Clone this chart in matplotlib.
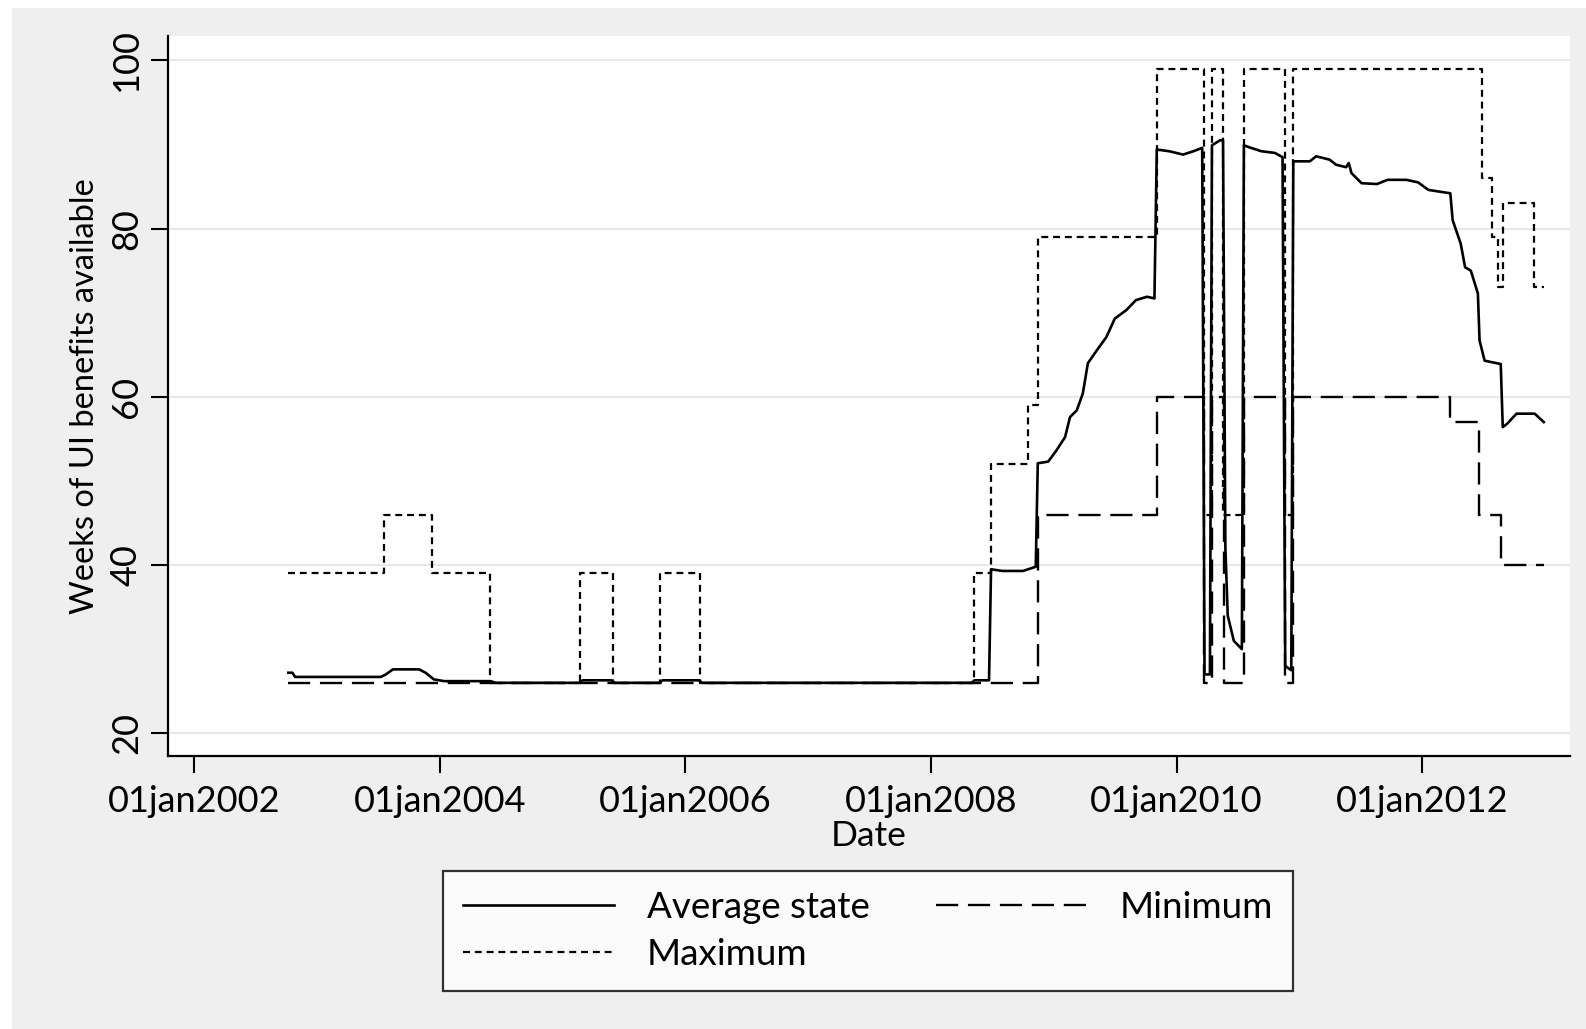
import matplotlib
matplotlib.use("Agg")
import matplotlib.pyplot as plt
import pandas as pd
from matplotlib.patches import Rectangle

# ---------------- data ----------------
avg_dates = [
    "2002-10-08", "2002-10-20", "2002-10-28", "2003-07-10", "2003-07-25",
    "2003-08-15", "2003-11-01", "2003-11-20", "2003-12-15", "2004-01-15",
    "2004-06-01", "2004-06-15", "2005-02-20", "2005-03-01", "2005-05-25",
    "2005-06-05", "2005-10-16", "2005-10-25", "2006-02-10", "2006-02-20",
    "2008-05-01", "2008-05-10", "2008-06-22", "2008-06-28", "2008-08-01",
    "2008-10-01", "2008-11-08", "2008-11-14", "2008-12-15", "2009-01-08",
    "2009-02-03", "2009-02-18", "2009-03-10", "2009-03-28", "2009-04-12",
    "2009-05-08", "2009-06-06", "2009-07-01", "2009-08-04", "2009-09-02",
    "2009-10-05", "2009-10-27", "2009-11-03", "2009-12-10", "2010-01-20",
    "2010-02-20", "2010-03-18", "2010-03-25", "2010-04-10", "2010-04-16",
    "2010-05-10", "2010-05-19", "2010-05-26", "2010-06-02", "2010-06-20",
    "2010-07-14", "2010-07-20", "2010-08-10", "2010-09-10", "2010-10-20",
    "2010-11-12", "2010-11-20", "2010-12-08", "2010-12-14", "2011-02-01",
    "2011-02-20", "2011-04-01", "2011-04-20", "2011-05-20", "2011-05-28",
    "2011-06-05", "2011-07-05", "2011-08-20", "2011-09-20", "2011-11-15",
    "2011-12-20", "2012-01-20", "2012-03-25", "2012-04-01", "2012-04-25",
    "2012-05-08", "2012-05-25", "2012-06-15", "2012-06-20", "2012-07-05",
    "2012-08-22", "2012-08-28", "2012-09-10", "2012-10-08", "2012-12-01",
    "2012-12-28",
]
avg_values = [
    27.2, 27.2, 26.7, 26.7, 27.0,
    27.6, 27.6, 27.2, 26.4, 26.2,
    26.2, 26.0, 26.0, 26.3, 26.3,
    26.0, 26.0, 26.3, 26.3, 26.0,
    26.0, 26.3, 26.3, 39.5, 39.3,
    39.3, 39.8, 52.1, 52.3, 53.6,
    55.2, 57.6, 58.4, 60.4, 64.0,
    65.5, 67.1, 69.3, 70.3, 71.5,
    71.9, 71.7, 89.4, 89.2, 88.8,
    89.2, 89.6, 27.0, 27.0, 89.9,
    90.5, 90.5, 42.0, 34.0, 31.0,
    30.0, 89.9, 89.6, 89.2, 89.0,
    88.5, 28.0, 27.5, 88.0, 88.0,
    88.6, 88.2, 87.6, 87.3, 87.8,
    86.6, 85.4, 85.3, 85.8, 85.8,
    85.5, 84.6, 84.2, 81.0, 78.2,
    75.4, 75.0, 72.3, 66.7, 64.3,
    63.9, 56.4, 56.8, 58.0, 58.0,
    57.0,
]

max_dates = [
    "2002-10-08", "2003-07-19", "2003-12-09", "2004-05-30", "2005-02-20",
    "2005-05-30", "2005-10-16", "2006-02-14", "2008-05-08", "2008-06-28",
    "2008-10-16", "2008-11-14", "2009-11-03", "2010-03-22", "2010-04-16",
    "2010-05-19", "2010-07-20", "2010-11-18", "2010-12-14", "2012-06-28",
    "2012-07-28", "2012-08-15", "2012-08-29", "2012-11-29", "2012-12-28",
]
max_values = [
    39, 46, 39, 26, 39,
    26, 39, 26, 39, 52,
    59, 79, 99, 46, 99,
    46, 99, 46, 99, 86,
    79, 73, 83, 73, 73,
]

min_dates = [
    "2002-10-08", "2008-11-14", "2009-11-03", "2010-03-22", "2010-04-16",
    "2010-05-22", "2010-07-20", "2010-11-18", "2010-12-14", "2012-03-25",
    "2012-06-18", "2012-08-22", "2012-12-28",
]
min_values = [
    26, 46, 60, 26, 60,
    26, 60, 26, 60, 57,
    46, 40, 40,
]

xtick_dates = ["2002-01-01", "2004-01-01", "2006-01-01",
               "2008-01-01", "2010-01-01", "2012-01-01"]
ytick_values = [20, 40, 60, 80, 100]
series_labels = ["Average state", "Maximum", "Minimum"]

# ---------------- styling ----------------
plt.rcParams["font.family"] = ["Lato", "DejaVu Sans"]
plt.rcParams["lines.scale_dashes"] = False

W, H = 1586, 1029
fig = plt.figure(figsize=(W / 100, H / 100), dpi=100)
fig.patch.set_facecolor("white")
fig.add_artist(Rectangle((12 / W, 0), 1, 1 - 8 / H, transform=fig.transFigure,
                         facecolor="#efefef", edgecolor="none", zorder=-5))

ax = fig.add_axes([168 / W, 1 - 756 / H, (1570 - 168) / W, (756 - 36) / H])
ax.set_facecolor("white")

l_avg, = ax.plot(pd.to_datetime(avg_dates), avg_values, color="black",
                 lw=1.9, label=series_labels[0], zorder=3)
l_max, = ax.plot(pd.to_datetime(max_dates), max_values, color="black",
                 lw=1.6, linestyle=(0, (5, 3.5)), drawstyle="steps-post",
                 label=series_labels[1], zorder=2)
l_min, = ax.plot(pd.to_datetime(min_dates), min_values, color="black",
                 lw=1.7, linestyle=(0, (16, 7)), drawstyle="steps-post",
                 label=series_labels[2], zorder=2)

ax.set_xlim(pd.Timestamp("2001-10-15"), pd.Timestamp("2013-03-16"))
ax.set_ylim(17.3, 102.9)

xt = pd.to_datetime(xtick_dates)
ax.set_xticks(xt)
ax.set_xticklabels([d.strftime("%d%b%Y").lower() for d in xt])
ax.set_yticks(ytick_values)
ax.set_yticklabels([str(v) for v in ytick_values])

ax.tick_params(axis="both", which="major", length=12, width=1.5,
               color="black", labelsize=26, labelcolor="black")
ax.tick_params(axis="x", pad=9)
ax.tick_params(axis="y", labelrotation=90, pad=6)
for lbl in ax.get_yticklabels():
    lbl.set_va("center")

for s in ["top", "right"]:
    ax.spines[s].set_visible(False)
for s in ["left", "bottom"]:
    ax.spines[s].set_linewidth(1.6)
    ax.spines[s].set_color("black")

ax.yaxis.grid(True, color="#e6e6e6", lw=1.3)
ax.xaxis.grid(False)
ax.set_axisbelow(True)

ax.set_ylabel("Weeks of UI benefits available", fontsize=23.5, labelpad=7)
ax.set_xlabel("Date", fontsize=25.5, labelpad=1)

leg = fig.legend(handles=[l_avg, l_max, l_min], labels=series_labels,
                 ncol=2, loc="center",
                 bbox_to_anchor=(868 / W, 1 - 931 / H),
                 fontsize=26.5, frameon=True, fancybox=False,
                 handlelength=4.1, handletextpad=0.9, columnspacing=1.8,
                 labelspacing=0.4, borderpad=0.54, borderaxespad=0)
leg.get_frame().set_edgecolor("black")
leg.get_frame().set_linewidth(1.6)
leg.get_frame().set_facecolor("white")

fig.savefig("out.png", dpi=100, facecolor=fig.get_facecolor())
